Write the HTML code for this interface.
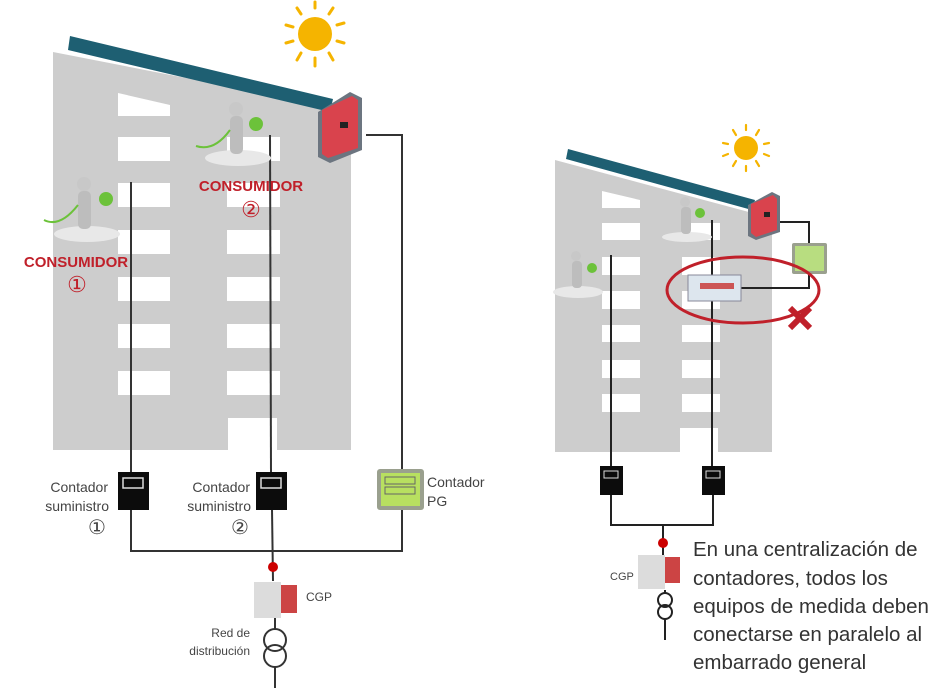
<!DOCTYPE html>
<html><head><meta charset="utf-8"><style>
html,body{margin:0;padding:0;background:#fff;}
svg{display:block;font-family:"Liberation Sans",sans-serif;}
</style></head><body>
<svg width="942" height="698" viewBox="0 0 942 698" xmlns="http://www.w3.org/2000/svg">
<!-- LEFT BUILDING -->
<polygon points="53,52 340,108 351,108 351,450 277,450 277,418 228,418 228,450 53,450" fill="#cdcdcd"/>
<polygon points="70,36 333,99 330,112 68,50" fill="#1e5f72"/>
<g fill="#fff">
<polygon points="118,93 170,105 170,116 118,116"/>
<rect x="118" y="137" width="52" height="24"/>
<rect x="118" y="183" width="52" height="24"/>
<rect x="118" y="230" width="52" height="24"/>
<rect x="118" y="277" width="52" height="24"/>
<rect x="118" y="324" width="52" height="24"/>
<rect x="118" y="371" width="52" height="24"/>
<rect x="227" y="137" width="53" height="24"/>
<rect x="227" y="183" width="53" height="24"/>
<rect x="227" y="230" width="53" height="24"/>
<rect x="227" y="277" width="53" height="24"/>
<rect x="227" y="324" width="53" height="24"/>
<rect x="227" y="371" width="53" height="24"/>
</g>
<!-- sun -->
<g stroke="#f5b400" stroke-width="3" stroke-linecap="round">
<line x1="315" y1="2" x2="315" y2="8"/><line x1="315" y1="58" x2="315" y2="66"/>
<line x1="286" y1="25" x2="293" y2="27"/><line x1="337" y1="25" x2="344" y2="23"/>
<line x1="286" y1="43" x2="293" y2="41"/><line x1="337" y1="41" x2="344" y2="43"/>
<line x1="297" y1="8" x2="301" y2="14"/><line x1="333" y1="8" x2="329" y2="14"/>
<line x1="297" y1="60" x2="301" y2="53"/><line x1="333" y1="60" x2="329" y2="53"/>
</g>
<circle cx="315" cy="34" r="17" fill="#f5b400"/>
<!-- inverter -->
<polygon points="318,112 350,92 362,98 362,150 330,163 318,157" fill="#6c7580"/>
<polygon points="322,110 352,96 358,100 358,148 328,158 322,154" fill="#d9434d"/>
<rect x="340" y="122" width="8" height="6" fill="#222"/>
<!-- wires -->
<g stroke="#333" stroke-width="2" fill="none">
<line x1="131" y1="182" x2="131" y2="472"/>
<line x1="270" y1="135" x2="271" y2="472"/>
<polyline points="366,135 402,135 402,469"/>
<polyline points="131,509 131,551 402,551 402,509"/>
<line x1="272" y1="509" x2="273" y2="581"/>
<line x1="275" y1="617" x2="275" y2="629"/>
<line x1="275" y1="667" x2="275" y2="688"/>
</g>
<!-- meters -->
<rect x="118" y="472" width="31" height="38" fill="#0c0c0c"/><rect x="123" y="478" width="20" height="10" fill="none" stroke="#ddd" stroke-width="1.5"/>
<rect x="256" y="472" width="31" height="38" fill="#0c0c0c"/><rect x="261" y="478" width="20" height="10" fill="none" stroke="#ddd" stroke-width="1.5"/>
<rect x="377" y="469" width="47" height="41" rx="3" fill="#9aa08e"/><rect x="381" y="473" width="39" height="33" fill="#b8e060"/>
<rect x="385" y="477" width="30" height="7" fill="none" stroke="#666"/><rect x="385" y="487" width="30" height="7" fill="none" stroke="#666"/>
<circle cx="273" cy="567" r="5" fill="#cc0000"/>
<rect x="254" y="582" width="27" height="36" fill="#dcdcdc"/><rect x="281" y="585" width="16" height="28" fill="#c44"/>
<circle cx="275" cy="640" r="11" fill="none" stroke="#333" stroke-width="2"/>
<circle cx="275" cy="656" r="11" fill="none" stroke="#333" stroke-width="2"/>
<g fill="#444" font-size="14">
<text x="108" y="492" text-anchor="end">Contador</text>
<text x="109" y="511" text-anchor="end">suministro</text>
<text x="97" y="534" text-anchor="middle" font-size="20">①</text>
<text x="250" y="492" text-anchor="end">Contador</text>
<text x="251" y="511" text-anchor="end">suministro</text>
<text x="240" y="534" text-anchor="middle" font-size="20">②</text>
<text x="427" y="487">Contador</text>
<text x="427" y="506">PG</text>
<text x="306" y="601" font-size="12">CGP</text>
<text x="250" y="637" text-anchor="end" font-size="12">Red de</text>
<text x="250" y="655" text-anchor="end" font-size="12">distribución</text>
</g>
<g fill="#c0202a" font-weight="bold" font-size="15">
<text x="76" y="267" text-anchor="middle">CONSUMIDOR</text>
<text x="77" y="292" text-anchor="middle" font-size="22" font-weight="normal">①</text>
<text x="251" y="191" text-anchor="middle">CONSUMIDOR</text>
<text x="251" y="217" text-anchor="middle" font-size="22" font-weight="normal">②</text>
</g>
<!-- figures -->
<g>
<ellipse cx="87" cy="234" rx="33" ry="8" fill="#e8e8e8"/>
<circle cx="84" cy="184" r="7" fill="#c8c8c8"/>
<rect x="78" y="191" width="13" height="38" rx="5" fill="#bdbdbd"/>
<circle cx="106" cy="199" r="7" fill="#6cc23a"/>
<path d="M44 220 Q60 228 78 205" stroke="#6cc23a" stroke-width="2" fill="none"/>
<ellipse cx="238" cy="158" rx="33" ry="8" fill="#e8e8e8"/>
<circle cx="236" cy="109" r="7" fill="#c8c8c8"/>
<rect x="230" y="116" width="13" height="38" rx="5" fill="#bdbdbd"/>
<circle cx="256" cy="124" r="7" fill="#6cc23a"/>
<path d="M196 146 Q214 152 230 130" stroke="#6cc23a" stroke-width="2" fill="none"/>
</g>

<!-- RIGHT BUILDING -->
<polygon points="555,160 760,215 772,215 772,452 718,452 718,428 680,428 680,452 555,452" fill="#cdcdcd"/>
<polygon points="568,149 755,200 752,210 566,159" fill="#1e5f72"/>
<g fill="#fff">
<polygon points="602,191 640,200 640,208 602,208"/>
<rect x="602" y="223" width="38" height="17"/>
<rect x="602" y="257" width="38" height="18"/>
<rect x="602" y="291" width="38" height="18"/>
<rect x="602" y="325" width="38" height="17"/>
<rect x="602" y="360" width="38" height="18"/>
<rect x="602" y="394" width="38" height="18"/>
<rect x="682" y="223" width="38" height="17"/>
<rect x="682" y="257" width="38" height="18"/>
<rect x="682" y="291" width="38" height="18"/>
<rect x="682" y="325" width="38" height="17"/>
<rect x="682" y="360" width="38" height="18"/>
<rect x="682" y="394" width="38" height="18"/>
</g>
<g stroke="#f5b400" stroke-width="2.2" stroke-linecap="round">
<line x1="746" y1="125" x2="746" y2="130"/><line x1="746" y1="166" x2="746" y2="171"/>
<line x1="723" y1="143" x2="728" y2="144"/><line x1="764" y1="144" x2="769" y2="143"/>
<line x1="723" y1="156" x2="728" y2="154"/><line x1="764" y1="154" x2="769" y2="156"/>
<line x1="733" y1="130" x2="736" y2="135"/><line x1="759" y1="130" x2="756" y2="135"/>
<line x1="733" y1="166" x2="736" y2="161"/><line x1="759" y1="166" x2="756" y2="161"/>
</g>
<circle cx="746" cy="148" r="12" fill="#f5b400"/>
<polygon points="748,205 772,192 780,196 780,232 756,240 748,236" fill="#6c7580"/>
<polygon points="751,204 773,195 777,199 777,230 756,237 751,233" fill="#d9434d"/>
<rect x="764" y="212" width="6" height="5" fill="#222"/>
<g stroke="#222" stroke-width="2" fill="none">
<line x1="611" y1="255" x2="611" y2="466"/>
<line x1="712" y1="220" x2="712" y2="466"/>
<polyline points="611,494 611,525 713,525 713,494"/>
<line x1="663" y1="525" x2="663" y2="556"/>
<line x1="665" y1="590" x2="665" y2="593"/>
<line x1="665" y1="619" x2="665" y2="640"/>
<polyline points="780,222 809,222 809,243"/>
<polyline points="809,273 809,288 740,288"/>
</g>
<rect x="600" y="466" width="23" height="29" fill="#0c0c0c"/><rect x="604" y="471" width="14" height="7" fill="none" stroke="#ddd"/>
<rect x="702" y="466" width="23" height="29" fill="#0c0c0c"/><rect x="706" y="471" width="14" height="7" fill="none" stroke="#ddd"/>
<rect x="792" y="243" width="35" height="31" rx="2" fill="#9aa08e"/><rect x="795" y="246" width="29" height="25" fill="#b8dd80"/>
<rect x="688" y="275" width="53" height="26" fill="#dde6ee" stroke="#889" /><rect x="700" y="283" width="34" height="6" fill="#c55"/>
<ellipse cx="743" cy="290" rx="76" ry="33" fill="none" stroke="#c0202a" stroke-width="3"/>
<g stroke="#c0202a" stroke-width="6"><line x1="790" y1="308" x2="810" y2="328"/><line x1="810" y1="308" x2="790" y2="328"/></g>
<circle cx="663" cy="543" r="5" fill="#cc0000"/>
<rect x="638" y="555" width="27" height="34" fill="#dcdcdc"/><rect x="665" y="557" width="15" height="26" fill="#c44"/>
<circle cx="665" cy="600" r="7" fill="none" stroke="#222" stroke-width="2"/>
<circle cx="665" cy="612" r="7" fill="none" stroke="#222" stroke-width="2"/>
<text x="610" y="580" font-size="11" fill="#444">CGP</text>
<g>
<ellipse cx="578" cy="292" rx="25" ry="6" fill="#e8e8e8"/>
<circle cx="576" cy="256" r="5" fill="#c8c8c8"/><rect x="572" y="261" width="10" height="27" rx="4" fill="#bdbdbd"/>
<circle cx="592" cy="268" r="5" fill="#6cc23a"/>
<ellipse cx="687" cy="237" rx="25" ry="5" fill="#e8e8e8"/>
<circle cx="685" cy="202" r="5" fill="#c8c8c8"/><rect x="681" y="207" width="10" height="27" rx="4" fill="#bdbdbd"/>
<circle cx="700" cy="213" r="5" fill="#6cc23a"/>
</g>
<g fill="#333" font-size="20.5">
<text x="693" y="556">En una centralización de</text>
<text x="693" y="585">contadores, todos los</text>
<text x="693" y="613">equipos de medida deben</text>
<text x="693" y="641">conectarse en paralelo al</text>
<text x="693" y="669">embarrado general</text>
</g>
</svg>
</body></html>
